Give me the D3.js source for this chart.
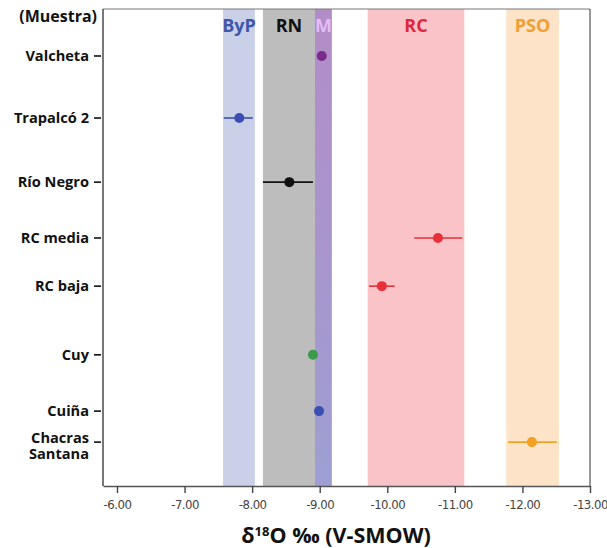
<!DOCTYPE html>
<html><head><meta charset="utf-8">
<script src="https://cdn.jsdelivr.net/npm/d3@7"></script>
<style>body{margin:0;background:#fff;} svg{display:block;}</style>
</head><body>
<script>
// ---- data ----
const samples = ["Valcheta","Trapalcó 2","Río Negro","RC media","RC baja","Cuy","Cuiña","Chacras Santana"];
const sampleRow = [0.985, 2.285, 3.63, 4.80, 5.81, 7.25, 8.43, 9.08];
const sampleMean = [-9.03, -7.81, -8.55, -10.75, -9.92, -8.90, -8.99, -12.14];
const sampleLow  = [-9.03, -7.58, -8.16, -10.40, -9.73, -8.90, -8.99, -11.79];
const sampleHigh = [-9.03, -8.01, -8.90, -11.11, -10.11, -8.90, -8.99, -12.51];
const sampleColor = ["#7b2a8c","#3b4fb3","#111111","#e8303a","#e8303a","#3a9a4a","#3b4fb3","#f4a020"];
const zoneNames = ["ByP","RN","M","RC","PSO"];
const zoneFrom = [-7.57, -8.16, -8.93, -9.71, -11.76];
const zoneTo   = [-8.04, -8.93, -9.18, -11.14, -12.54];
const zoneFill = ["#c9d0e7","#bdbdbd","url(#mgrad)","#f9c3c8","#fde3c7"];
const zoneText = ["#3d58aa","#111111","#e2bdf6","#e0283c","#f0a030"];
const xTicks = [-6,-7,-8,-9,-10,-11,-12,-13];

const W=607,H=548;
const svg=d3.select("body").append("svg").attr("width",W).attr("height",H);
const defs=svg.append("defs");
const g=defs.append("linearGradient").attr("id","mgrad").attr("x1",0).attr("y1",0).attr("x2",0).attr("y2",1);
g.append("stop").attr("offset","0%").attr("stop-color","#b38cc6");
g.append("stop").attr("offset","100%").attr("stop-color","#9d9fd2");

const L=103,R=590,T=9,B=486;
const x=d3.scaleLinear().domain([-5.793,-13]).range([L,R]);
const y=d3.scaleLinear().domain([0,10]).range([T,B]);
const font="'Open Sans', 'DejaVu Sans', sans-serif";

// bands
svg.selectAll("rect.zone").data(zoneNames).enter().append("rect")
  .attr("x",(d,i)=>x(zoneFrom[i])).attr("width",(d,i)=>x(zoneTo[i])-x(zoneFrom[i]))
  .attr("y",T).attr("height",B-T).attr("fill",(d,i)=>zoneFill[i]);
svg.selectAll("text.zone").data(zoneNames).enter().append("text")
  .attr("x",(d,i)=>(x(zoneFrom[i])+x(zoneTo[i]))/2).attr("y",32)
  .attr("text-anchor","middle").attr("font-family",font).attr("font-weight","bold")
  .attr("font-size",18).attr("fill",(d,i)=>zoneText[i]).text(d=>d);

// frame
svg.append("line").attr("x1",L).attr("x2",R).attr("y1",T).attr("y2",T).attr("stroke","#777").attr("stroke-width",1);
svg.append("line").attr("x1",R).attr("x2",R).attr("y1",T).attr("y2",B).attr("stroke","#333").attr("stroke-width",1);

// x axis
const xa=svg.append("g").attr("transform",`translate(0,${B})`)
  .call(d3.axisBottom(x).tickValues(xTicks).tickFormat(d=>d.toFixed(2)).tickSize(7).tickSizeOuter(0));
xa.select(".domain").attr("stroke","#555").attr("stroke-width",1.6);
xa.selectAll(".tick line").attr("stroke","#444").attr("stroke-width",1.4);
xa.selectAll(".tick text").attr("font-family","'Liberation Sans Narrow','DejaVu Sans Condensed',sans-serif")
  .attr("font-size",13).attr("fill","#444").attr("dy","0.98em").attr("letter-spacing","-0.5");

// y axis
svg.append("line").attr("x1",L).attr("x2",L).attr("y1",T).attr("y2",B).attr("stroke","#555").attr("stroke-width",1.6);
const rows=svg.selectAll("g.row").data(samples).enter().append("g");
rows.append("line").attr("x1",L-9).attr("x2",L-2).attr("y1",(d,i)=>y(sampleRow[i])).attr("y2",(d,i)=>y(sampleRow[i]))
  .attr("stroke","#111").attr("stroke-width",1.6);
rows.each(function(d,i){
  const t=d3.select(this).append("text").attr("font-family",font).attr("font-weight","bold")
    .attr("font-size",14.6).attr("fill","#111").attr("text-anchor","end");
  const yy=y(sampleRow[i]);
  if(d==="Chacras Santana"){
    t.append("tspan").attr("x",89).attr("y",yy+1).text("Chacras");
    t.append("tspan").attr("x",89).attr("y",yy+17).text("Santana");
  } else {
    t.attr("x",89).attr("y",yy+5).text(d);
  }
});
svg.append("text").attr("x",97).attr("y",22).attr("text-anchor","end").attr("font-family",font)
  .attr("font-weight","bold").attr("font-size",16).attr("fill","#111").text("(Muestra)");

// error bars & points
const pts=svg.selectAll("g.pt").data(samples).enter().append("g");
pts.append("line").attr("x1",(d,i)=>x(sampleLow[i])).attr("x2",(d,i)=>x(sampleHigh[i]))
  .attr("y1",(d,i)=>y(sampleRow[i])).attr("y2",(d,i)=>y(sampleRow[i]))
  .attr("stroke",(d,i)=>sampleColor[i]).attr("stroke-width",1.6);
pts.append("circle").attr("cx",(d,i)=>x(sampleMean[i])).attr("cy",(d,i)=>y(sampleRow[i])).attr("r",5)
  .attr("fill",(d,i)=>sampleColor[i]);

// x title
const tt=svg.append("text").attr("x",336).attr("y",543).attr("text-anchor","middle").attr("font-family",font)
  .attr("font-weight","bold").attr("font-size",21.5).attr("fill","#111");
tt.append("tspan").text("δ");
tt.append("tspan").attr("font-size",13).attr("dy",-7).text("18");
tt.append("tspan").attr("dy",7).text("O ‰ (V-SMOW)");
</script>
</body></html>
